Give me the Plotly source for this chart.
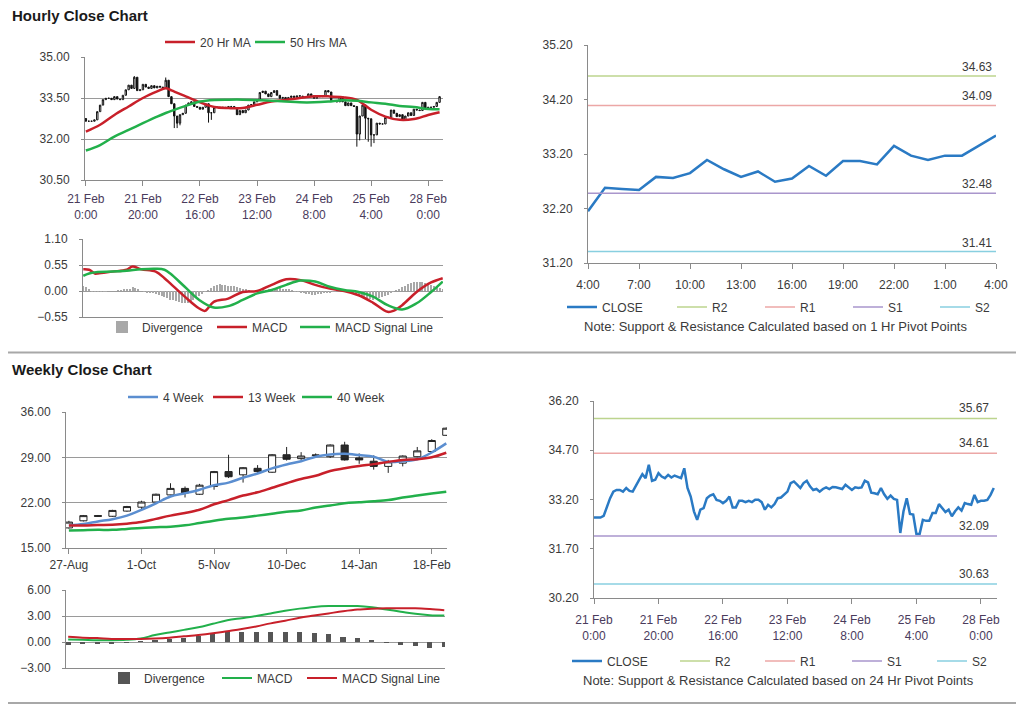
import plotly.graph_objects as go

W, H = 1024, 706
OX, OY = 8, 8          # page offset of the plot div (body margin)
FONT = "Liberation Sans, Arial, sans-serif"

# ------------------------------------------------------------------ data
hourly_labels = ["21 Feb<br>0:00", "21 Feb<br>20:00", "22 Feb<br>16:00", "23 Feb<br>12:00",
                 "24 Feb<br>8:00", "25 Feb<br>4:00", "28 Feb<br>0:00"]
hourly_tick_idx = [0, 20, 40, 60, 80, 100, 120]

hourly_close = [
    32.65, 32.65, 32.65, 32.70, 33.00, 33.24, 33.44, 33.49, 33.49, 33.44,
    33.55, 33.46, 33.44, 33.60, 33.80, 33.97, 33.85, 34.26, 33.77, 33.80,
    34.00, 33.90, 33.85, 33.95, 33.87, 33.93, 33.90, 33.85, 34.15, 33.55,
    33.29, 32.84, 32.58, 32.89, 32.94, 33.24, 33.32, 33.36, 33.19, 33.16,
    33.09, 33.16, 33.29, 32.96, 32.96, 33.16, 33.16, 33.12, 33.16, 33.12,
    33.19, 33.19, 33.12, 32.89, 33.04, 32.96, 33.06, 33.24, 33.26, 33.36,
    33.44, 33.70, 33.75, 33.65, 33.55, 33.70, 33.77, 33.60, 33.49, 33.52,
    33.44, 33.52, 33.57, 33.52, 33.58, 33.57, 33.55, 33.52, 33.65, 33.58,
    33.49, 33.57, 33.55, 33.57, 33.77, 33.72, 33.41, 33.39, 33.36, 33.55,
    33.36, 33.22, 33.32, 33.22, 33.19, 32.18, 32.84, 33.24, 32.76, 32.74,
    32.15, 32.15, 32.58, 32.55, 32.55, 32.79, 32.79, 33.06, 32.94, 32.82,
    32.89, 32.69, 32.84, 32.96, 32.86, 33.09, 33.06, 33.04, 33.34, 33.12,
    33.16, 33.16, 33.19, 33.34, 33.55,
]
first_open = 32.75
wick_low_idx = [31, 32, 33, 43, 44, 95, 96, 98, 99, 100, 101]
wick_low_val = [32.40, 32.40, 32.50, 32.60, 32.70, 31.72, 31.95, 32.00, 31.90, 31.72, 31.85]
wick_high_idx = [17, 28]
wick_high_val = [34.30, 34.25]

ma_idx = [0, 5, 10, 15, 20, 25, 28, 30, 35, 40, 45, 50, 55, 60, 65, 70, 75, 80, 85, 90,
          95, 100, 105, 110, 115, 120, 124]
ma20 = [32.27, 32.52, 32.88, 33.19, 33.50, 33.74, 33.86, 33.78, 33.56, 33.34, 33.17, 33.13,
        33.13, 33.25, 33.37, 33.43, 33.50, 33.56, 33.56, 33.53, 33.43, 33.07, 32.82, 32.70,
        32.73, 32.88, 32.98]
ma50 = [31.58, 31.78, 32.09, 32.33, 32.58, 32.82, 32.95, 33.03, 33.21, 33.37, 33.43, 33.44,
        33.44, 33.42, 33.40, 33.37, 33.34, 33.34, 33.37, 33.42, 33.40, 33.34, 33.29, 33.21,
        33.17, 33.10, 33.09]

macd_h_idx = [0, 2, 4, 5, 10, 15, 17, 20, 25, 28, 30, 35, 40, 42, 45, 50, 55, 60, 65, 70,
              75, 80, 85, 90, 95, 100, 105, 107, 110, 115, 120, 124]
macd_h = [0.46, 0.45, 0.37, 0.37, 0.41, 0.45, 0.52, 0.46, 0.41, 0.27, 0.16, -0.12, -0.37,
          -0.42, -0.23, -0.16, -0.02, 0.00, 0.13, 0.25, 0.23, 0.13, 0.05, 0.00, -0.09, -0.25,
          -0.44, -0.42, -0.30, -0.02, 0.18, 0.27]
sig_h_idx = [0, 2, 5, 10, 15, 20, 25, 28, 30, 35, 40, 45, 50, 55, 60, 65, 70, 75, 80, 85,
             90, 95, 100, 105, 110, 115, 120, 124]
sig_h = [0.32, 0.37, 0.40, 0.41, 0.43, 0.46, 0.47, 0.45, 0.37, 0.09, -0.19, -0.35, -0.32,
         -0.19, -0.05, 0.02, 0.13, 0.22, 0.20, 0.09, 0.02, -0.02, -0.12, -0.30, -0.39, -0.26,
         -0.02, 0.20]
div_h = [
    0.11, 0.09, 0.05,
    -0.02, -0.02, -0.02, -0.02, -0.02, -0.02,
    0.00, 0.00, 0.00, 0.01, 0.02, 0.03,
    0.04, 0.05, 0.08, 0.06, 0.03, 0.00,
    -0.02, -0.03, -0.04, -0.05, -0.06, -0.08, -0.10, -0.12, -0.15, -0.18,
    -0.20, -0.22, -0.24, -0.26, -0.26, -0.25, -0.22,
    -0.18, -0.14, -0.10, -0.06, -0.02, 0.02,
    0.06, 0.10, 0.13, 0.14, 0.13, 0.12, 0.11, 0.10, 0.10, 0.09, 0.07, 0.05, 0.03, 0.01,
    0.00, -0.01, 0.00, 0.01, 0.02, 0.02, 0.03, 0.04,
    0.05, 0.06, 0.06, 0.05, 0.04, 0.03, 0.02,
    -0.01, -0.02, -0.03, -0.05, -0.06, -0.07, -0.08, -0.08, -0.07, -0.06, -0.05, -0.04,
    -0.03, -0.02, -0.01,
    0.00, 0.00, -0.01, -0.02, -0.03, -0.05, -0.07, -0.09,
    -0.11, -0.13, -0.15, -0.17, -0.18, -0.17, -0.15, -0.12, -0.10, -0.08, -0.05, -0.02,
    0.02, 0.05, 0.08, 0.11, 0.14, 0.16, 0.18, 0.19, 0.20, 0.19, 0.17, 0.15, 0.12, 0.10,
    0.08, 0.06, 0.05,
]

day_hours = ["4:00", "7:00", "10:00", "13:00", "16:00", "19:00", "22:00", "1:00", "4:00"]
day_close = [32.15, 32.58, 32.56, 32.54, 32.78, 32.76, 32.85, 33.09, 32.92, 32.78, 32.88,
             32.69, 32.75, 32.98, 32.80, 33.07, 33.07, 33.01, 33.35, 33.17, 33.09, 33.17,
             33.17, 33.35, 33.54]

pivot_names = ["R2", "R1", "S1", "S2"]
pivot_1h = [34.63, 34.09, 32.48, 31.41]
pivot_24h = [35.67, 34.61, 32.09, 30.63]

weekly_labels = ["27-Aug", "1-Oct", "5-Nov", "10-Dec", "14-Jan", "18-Feb"]
weekly_tick_idx = [0, 5, 10, 15, 20, 25]
wk_open = [18.1, 19.2, 20.0, 19.9, 20.7, 21.3, 22.1, 23.2, 24.2, 23.3, 24.5, 26.8, 26.3, 27.3,
           26.7, 29.4, 28.8, 29.3, 29.1, 30.9, 28.9, 28.4, 27.6, 28.1, 29.1, 29.9, 32.4]
wk_close = [19.0, 20.0, 19.9, 20.8, 21.4, 22.1, 23.3, 24.2, 23.5, 24.7, 26.8, 26.0, 27.4, 26.8,
            29.4, 28.7, 29.2, 29.35, 30.9, 28.6, 28.6, 27.6, 28.3, 29.2, 30.0, 31.6, 33.5]
wk_high = [19.2, 20.1, 20.1, 20.9, 21.5, 22.3, 23.4, 25.0, 24.5, 24.9, 26.9, 29.4, 27.5, 27.8,
           29.5, 30.6, 29.8, 29.6, 31.0, 31.4, 29.6, 29.3, 28.6, 29.3, 30.6, 31.8, 33.6]
wk_low = [18.0, 19.1, 19.8, 19.8, 20.6, 21.0, 22.0, 23.1, 22.8, 23.2, 24.0, 25.8, 25.1, 26.6,
          26.6, 28.5, 28.6, 29.1, 28.9, 28.5, 28.0, 27.1, 26.6, 27.6, 29.0, 29.8, 32.3]
wk_ma4 = [18.48, 18.7, 19.1, 19.45, 20.0, 20.9, 21.9, 22.95, 23.45, 24.0, 24.7, 25.1, 25.85,
          26.5, 27.3, 27.9, 28.4, 29.1, 29.45, 29.55, 29.35, 29.1, 28.3, 28.4, 28.7, 29.75, 31.15]
wk_ma13 = [18.48, 18.48, 18.55, 18.6, 18.75, 19.0, 19.5, 20.0, 20.4, 20.9, 21.75, 22.4, 23.1,
           23.6, 24.3, 25.0, 25.65, 26.15, 26.9, 27.3, 27.65, 27.95, 28.3, 28.6, 28.7, 29.0, 29.7]
wk_ma40 = [17.7, 17.75, 17.8, 17.8, 17.95, 18.1, 18.2, 18.3, 18.5, 18.85, 19.2, 19.5, 19.7,
           20.0, 20.3, 20.6, 20.8, 21.25, 21.55, 21.9, 22.05, 22.2, 22.4, 22.8, 23.1, 23.4, 23.7]
wk_div = [-0.3, -0.2, -0.2, -0.2, -0.1, 0.1, 0.2, 0.35, 0.5, 0.7, 0.9, 1.15, 1.2, 1.2, 1.2,
          1.2, 1.2, 1.05, 0.95, 0.6, 0.45, 0.15, -0.1, -0.35, -0.5, -0.65, -0.6]
wk_macd = [0.3, 0.25, 0.2, 0.2, 0.25, 0.4, 0.8, 1.1, 1.4, 1.7, 2.1, 2.5, 2.75, 3.0, 3.3, 3.6,
           3.85, 4.05, 4.15, 4.15, 4.15, 4.0, 3.75, 3.5, 3.25, 3.1, 3.05]
wk_signal = [0.6, 0.5, 0.45, 0.35, 0.35, 0.35, 0.4, 0.5, 0.65, 0.8, 1.0, 1.25, 1.5, 1.8, 2.15,
             2.45, 2.8, 3.05, 3.3, 3.55, 3.75, 3.85, 3.9, 3.9, 3.9, 3.8, 3.65]

ticks_hourly_price = [30.50, 32.00, 33.50, 35.00]
ticks_hourly_macd = [-0.55, 0.00, 0.55, 1.10]
ticks_day = [31.20, 32.20, 33.20, 34.20, 35.20]
ticks_weekly_price = [15.00, 22.00, 29.00, 36.00]
ticks_weekly_macd = [-3.00, 0.00, 3.00, 6.00]
ticks_week_hourly = [30.20, 31.70, 33.20, 34.70, 36.20]

# ------------------------------------------------------------------ derived OHLC for hourly candles
n_h = len(hourly_close)
h_idx = list(range(n_h))
h_open = [first_open] + hourly_close[:-1]
h_high = [max(o, c) for o, c in zip(h_open, hourly_close)]
h_low = [min(o, c) for o, c in zip(h_open, hourly_close)]
for i, v in zip(wick_low_idx, wick_low_val):
    h_low[i] = v
for i, v in zip(wick_high_idx, wick_high_val):
    h_high[i] = v
wk_idx = list(range(len(wk_close)))
day_idx = list(range(len(day_close)))

# ------------------------------------------------------------------ styles
RED = "#c8202a"
GREEN = "#22b04b"
BLUE_MA = "#5b8ed0"
CLOSE_BLUE = "#2a7ac4"
PIVOT_COL = {"R2": "#bcd48e", "R1": "#eca7a6", "S1": "#a996cc", "S2": "#88cfe0"}
GRID = "#9a9a9a"
AXIS = "#8a8a8a"
TXT = "#3a3a3a"
XTXT = "#4a3b5c"
TICK_SIZE = 12
LEG_SIZE = 12


def px(x):
    return (x - OX) / W


def py(y):
    return 1 - (y - OY) / H


def dx(a, b):
    return [px(a), px(b)]


def dy(top, bottom):
    return [py(bottom), py(top)]


def yax(dom, rng, tickvals, grid=True, anchor="x"):
    return dict(domain=dom, range=rng, tickvals=tickvals, tickformat=".2f", showgrid=grid,
                gridcolor=GRID, gridwidth=1, zeroline=False, showline=True, linecolor=AXIS,
                linewidth=1, ticks="outside", ticklen=3, tickcolor=AXIS, anchor=anchor,
                automargin=False, ticklabelstandoff=9,
                tickfont=dict(family=FONT, size=TICK_SIZE, color=TXT), fixedrange=True)


def xax(dom, rng, tickvals=None, ticktext=None, anchor="y", labels=True, color=XTXT, standoff=0):
    d = dict(domain=dom, range=rng, showgrid=False, zeroline=False, showline=True,
             linecolor=AXIS, linewidth=1, anchor=anchor, fixedrange=True, automargin=False,
             tickfont=dict(family=FONT, size=TICK_SIZE, color=color))
    if labels:
        d.update(tickvals=tickvals, ticktext=ticktext, ticks="outside", ticklen=5,
                 tickcolor=AXIS, tickangle=0, ticklabelstandoff=standoff)
    else:
        d.update(showticklabels=False, ticks="")
    return d


def leg(x_px, y_px):
    return dict(x=px(x_px), y=py(y_px), xanchor="left", yanchor="middle",
                orientation="h", bgcolor="rgba(0,0,0,0)", borderwidth=0,
                font=dict(family=FONT, size=LEG_SIZE, color=TXT), entrywidthmode="pixels",
                tracegroupgap=0, itemclick=False, itemdoubleclick=False)


fig = go.Figure()

# ---- Panel 1: hourly candles + MAs
fig.add_trace(go.Candlestick(
    x=h_idx, open=h_open, high=h_high, low=h_low, close=hourly_close,
    xaxis="x", yaxis="y", showlegend=False, whiskerwidth=0,
    increasing=dict(line=dict(color="#111111", width=1), fillcolor="#ffffff"),
    decreasing=dict(line=dict(color="#111111", width=1), fillcolor="#111111")))
fig.add_trace(go.Scatter(x=ma_idx, y=ma20, name="20 Hr MA", mode="lines", line_shape="spline",
                         line=dict(color=RED, width=2.5), xaxis="x", yaxis="y",
                         legend="legend", legendwidth=45))
fig.add_trace(go.Scatter(x=ma_idx, y=ma50, name="50 Hrs MA", mode="lines", line_shape="spline",
                         line=dict(color=GREEN, width=2.5), xaxis="x", yaxis="y",
                         legend="legend", legendwidth=60))

# ---- Panel 2: hourly MACD
fig.add_trace(go.Bar(x=h_idx, y=div_h, name="Divergence", marker=dict(color="#a8a8a8", line_width=0),
                     width=0.35, xaxis="x2", yaxis="y2", legend="legend2", legendwidth=65))
fig.add_trace(go.Scatter(x=macd_h_idx, y=macd_h, name="MACD", mode="lines", line_shape="spline",
                         line=dict(color=RED, width=2.5), xaxis="x2", yaxis="y2",
                         legend="legend2", legendwidth=38))
fig.add_trace(go.Scatter(x=sig_h_idx, y=sig_h, name="MACD Signal Line", mode="lines",
                         line_shape="spline", line=dict(color=GREEN, width=2.5),
                         xaxis="x2", yaxis="y2", legend="legend2", legendwidth=100))

# ---- Panel 3: one-day hourly close with 1h pivots
P3_XR = [0, len(day_close) - 1]
fig.add_trace(go.Scatter(x=day_idx, y=day_close, name="CLOSE", mode="lines",
                         line=dict(color=CLOSE_BLUE, width=2.5), xaxis="x3", yaxis="y3",
                         legend="legend3", legendwidth=65))
for nm, v, w in zip(pivot_names, pivot_1h, [43, 43, 42, 20]):
    fig.add_trace(go.Scatter(x=P3_XR, y=[v, v], name=nm, mode="lines",
                             line=dict(color=PIVOT_COL[nm], width=1.5), xaxis="x3", yaxis="y3",
                             legend="legend3", legendwidth=w))

# ---- Panel 4: weekly candles + MAs
fig.add_trace(go.Candlestick(
    x=wk_idx, open=wk_open, high=wk_high, low=wk_low, close=wk_close,
    xaxis="x4", yaxis="y4", showlegend=False, whiskerwidth=0,
    increasing=dict(line=dict(color="#222222", width=1), fillcolor="#ffffff"),
    decreasing=dict(line=dict(color="#222222", width=1), fillcolor="#2a2a2a")))
for nm, data, col, w in [("4 Week", wk_ma4, BLUE_MA, 40), ("13 Week", wk_ma13, RED, 44),
                         ("40 Week", wk_ma40, GREEN, 50)]:
    fig.add_trace(go.Scatter(x=wk_idx, y=data, name=nm, mode="lines", line_shape="spline",
                             line=dict(color=col, width=2.5), xaxis="x4", yaxis="y4",
                             legend="legend4", legendwidth=w))

# ---- Panel 5: weekly MACD
fig.add_trace(go.Bar(x=wk_idx, y=wk_div, name="Divergence", marker=dict(color="#555555", line_width=0),
                     width=0.35, xaxis="x5", yaxis="y5", legend="legend5", legendwidth=68))
fig.add_trace(go.Scatter(x=wk_idx, y=wk_macd, name="MACD", mode="lines", line_shape="spline",
                         line=dict(color=GREEN, width=2), xaxis="x5", yaxis="y5",
                         legend="legend5", legendwidth=40))
fig.add_trace(go.Scatter(x=wk_idx, y=wk_signal, name="MACD Signal Line", mode="lines",
                         line_shape="spline", line=dict(color=RED, width=2),
                         xaxis="x5", yaxis="y5", legend="legend5", legendwidth=100))

# ---- Panel 6: week of hourly closes with 24h pivots
P6_XR = [0, 125]
fig.add_trace(go.Scatter(x=h_idx, y=hourly_close, name="CLOSE", mode="lines",
                         line=dict(color=CLOSE_BLUE, width=2.5), xaxis="x6", yaxis="y6",
                         legend="legend6", legendwidth=63))
for nm, v, w in zip(pivot_names, pivot_24h, [40, 42, 40, 20]):
    fig.add_trace(go.Scatter(x=P6_XR, y=[v, v], name=nm, mode="lines",
                             line=dict(color=PIVOT_COL[nm], width=1.5), xaxis="x6", yaxis="y6",
                             legend="legend6", legendwidth=w))

# ------------------------------------------------------------------ annotations
ann = []
for txt, ypx in [("<b>Hourly Close Chart</b>", 16), ("<b>Weekly Close Chart</b>", 370)]:
    ann.append(dict(text=txt, x=px(10), y=py(ypx), xref="paper", yref="paper",
                    xanchor="left", yanchor="middle", showarrow=False,
                    font=dict(family=FONT, size=15, color="#1a1a1a")))
for v in pivot_1h:
    ann.append(dict(text=f"{v:.2f}", x=1, xref="x3 domain", y=v, yref="y3", xanchor="right",
                    yanchor="bottom", xshift=-2, yshift=0, showarrow=False,
                    font=dict(family=FONT, size=12, color=TXT)))
for v in pivot_24h:
    ann.append(dict(text=f"{v:.2f}", x=1, xref="x6 domain", y=v, yref="y6", xanchor="right",
                    yanchor="bottom", xshift=-6, yshift=1, showarrow=False,
                    font=dict(family=FONT, size=12, color=TXT)))
ann.append(dict(text="Note: Support & Resistance Calculated based on 1 Hr Pivot Points",
                x=px(775), y=py(326), xref="paper", yref="paper", xanchor="center",
                yanchor="middle", showarrow=False, font=dict(family=FONT, size=13, color=TXT)))
ann.append(dict(text="Note: Support & Resistance Calculated based on 24 Hr Pivot Points",
                x=px(778), y=py(680), xref="paper", yref="paper", xanchor="center",
                yanchor="middle", showarrow=False, font=dict(family=FONT, size=13, color=TXT)))

shapes = [
    dict(type="line", xref="paper", yref="paper", x0=0, x1=1, y0=py(352.5), y1=py(352.5),
         line=dict(color="#a8a8a8", width=2)),
    dict(type="line", xref="paper", yref="paper", x0=0, x1=1, y0=py(703), y1=py(703),
         line=dict(color="#a8a8a8", width=2)),
]

fig.update_layout(
    template="none",
    width=W, height=H, autosize=False, margin=dict(l=0, r=0, t=0, b=0, pad=0, autoexpand=False),
    paper_bgcolor="white", plot_bgcolor="white", font=dict(family=FONT, color=TXT),
    hovermode=False, bargap=0, barmode="overlay",
    annotations=ann, shapes=shapes,
    # panel 1
    xaxis=dict(**xax(dx(85, 443), [-0.3, 125.2], hourly_tick_idx, hourly_labels, anchor="y",
                     standoff=3),
               rangeslider=dict(visible=False)),
    yaxis=yax(dy(57, 180), [30.5, 35.0], ticks_hourly_price, anchor="x"),
    # panel 2
    xaxis2=xax(dx(83, 443), [-0.1, 124.1], anchor="y2", labels=False),
    yaxis2=yax(dy(239, 317), [-0.55, 1.10], ticks_hourly_macd, anchor="x2"),
    # panel 3
    xaxis3=xax(dx(588, 996), P3_XR, list(range(0, 25, 3)), day_hours, anchor="y3", color=TXT,
               standoff=6),
    yaxis3=yax(dy(45, 263), [31.2, 35.2], ticks_day, grid=False, anchor="x3"),
    # panel 4
    xaxis4=dict(**xax(dx(66, 447), [-0.2, 26.05], weekly_tick_idx, weekly_labels, anchor="y4",
                      color=TXT, standoff=1),
                rangeslider=dict(visible=False)),
    yaxis4=yax(dy(412, 548), [15, 36], ticks_weekly_price, anchor="x4"),
    # panel 5
    xaxis5=xax(dx(66, 445), [-0.15, 26.05], anchor="y5", labels=False),
    yaxis5=yax(dy(590, 668), [-3, 6], ticks_weekly_macd, anchor="x5"),
    # panel 6
    xaxis6=xax(dx(594, 997), P6_XR, hourly_tick_idx, hourly_labels, anchor="y6", standoff=6),
    yaxis6=yax(dy(401, 598), [30.2, 36.2], ticks_week_hourly, grid=False, anchor="x6"),
    legend=leg(160, 42),
    legend2=leg(102, 327),
    legend3=leg(562, 307),
    legend4=leg(123, 397),
    legend5=leg(104, 678),
    legend6=leg(567, 661),
)

fig.write_html("out.html")
